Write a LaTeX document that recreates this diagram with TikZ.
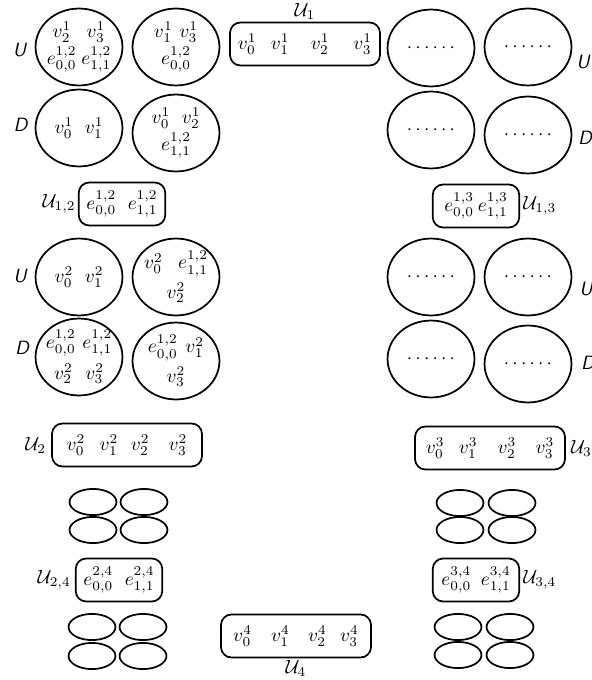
\documentclass[tikz,border=0pt]{standalone}
\usetikzlibrary{shapes.geometric}
\newcommand{\hs}[1]{\hspace{#1pt}}
\begin{document}
\begin{tikzpicture}[x=0.52pt,y=-0.52pt,
  big/.style={draw, ellipse, line width=0.9pt, minimum width=45.2pt, minimum height=40pt, inner xsep=-3pt, inner ysep=-1pt, align=center},
  small/.style={draw, ellipse, line width=0.9pt, minimum width=24.4pt, minimum height=13.6pt, inner sep=0},
  longbox/.style={draw, rounded corners=5.5pt, line width=0.9pt, minimum width=78pt, minimum height=22.4pt, inner sep=0},
  shortbox/.style={longbox, minimum width=45pt},
  lab/.style={inner sep=0, font=\sffamily\itshape}]
\useasboundingbox (0,0) rectangle (592,680);

% ---- row 1 (U) ----
\node[big] (e1) at (79,47) {$v^1_2\hs{8}v^1_3$\\[2pt]$e^{1,2}_{0,0}\hs{2.5}e^{1,2}_{1,1}$};
\node[big] (e2) at (176,47) {$v^1_1\hs{3.5}v^1_3$\\[2pt]$e^{1,2}_{0,0}$};
\node[big] (e3) at (431,48) {$\cdots\cdots$};
\node[big] (e4) at (528,47) {$\cdots\cdots$};
\node[lab] (lu1) at (19.5,50) {U};
\node[lab] (ru1) at (583,62) {U};

\node[longbox] (U1) at (305,44) {$v^1_0\hs{7.5}v^1_1\hs{11}v^1_2\hs{12.5}v^1_3$};
\node[inner sep=0, anchor=south] (lU1) at ([yshift=0.8pt]U1.north) {$\mathcal{U}_1$};

% ---- row 2 (D) ----
\node[big] (e5) at (79,128) {$v^1_0\hs{6}v^1_1$};
\node[big] (e6) at (176,133) {$v^1_0\hs{6}v^1_2$\\[2pt]$e^{1,2}_{1,1}$};
\node[big] (e7) at (431,130) {$\cdots\cdots$};
\node[big] (e8) at (528,135) {$\cdots\cdots$};
\node[lab] (ld2) at (20.5,125) {D};
\node[lab] (rd2) at (585,138) {D};

% ---- U_{1,2}, U_{1,3} ----
\node[shortbox] (U12) at (122,204) {$e^{1,2}_{0,0}\hs{6}e^{1,2}_{1,1}$};
\node[inner sep=0, anchor=east] (lU12) at ([xshift=-1pt]U12.west) {$\mathcal{U}_{1,2}$};
\node[shortbox] (U13) at (476,206) {$e^{1,3}_{0,0}\hs{2}e^{1,3}_{1,1}$};
\node[inner sep=0, anchor=west] (lU13) at ([xshift=1.5pt]U13.east) {$\mathcal{U}_{1,3}$};

% ---- row 3 (U) ----
\node[big] (e9) at (79,277) {$v^2_0\hs{6}v^2_1$};
\node[big] (e10) at (176,277) {$v^2_0\hs{8}e^{1,2}_{1,1}$\\[2pt]$v^2_2$};
\node[big] (e11) at (431,277) {$\cdots\cdots$};
\node[big] (e12) at (528,277) {$\cdots\cdots$};
\node[lab] (lu3) at (20,276) {U};
\node[lab] (ru3) at (586,289) {U};

% ---- row 4 (D) ----
\node[big] (e13) at (79,357) {$e^{1,2}_{0,0}\hs{3.5}e^{1,2}_{1,1}$\\[3pt]$v^2_2\hs{6.5}v^2_3$};
\node[big] (e14) at (176,361) {$e^{1,2}_{0,0}\hs{4}v^2_1$\\[2pt]$v^2_3$};
\node[big] (e15) at (431,359) {$\cdots\cdots$};
\node[big] (e16) at (528,364) {$\cdots\cdots$};
\node[lab] (ld4) at (22,348) {D};
\node[lab] (rd4) at (588,363) {D};

% ---- U_2, U_3 ----
\node[longbox] (U2) at (127,445) {$v^2_0\hs{7.5}v^2_1\hs{6.5}v^2_2\hs{10}v^2_3$};
\node[inner sep=0, anchor=east] (lU2) at ([xshift=-2.5pt]U2.west) {$\mathcal{U}_2$};
\node[longbox] (U3) at (490,448) {$v^3_0\hs{7.5}v^3_1\hs{10.5}v^3_2\hs{10}v^3_3$};
\node[inner sep=0, anchor=west] (lU3) at ([xshift=2.5pt]U3.east) {$\mathcal{U}_3$};

% ---- small ellipse groups ----
\node[small] (a1) at (93,502) {};
\node[small] (a2) at (144,502) {};
\node[small] (a3) at (93,530) {};
\node[small] (a4) at (144,530) {};
\node[small] (b1) at (92,627) {};
\node[small] (b2) at (143,627) {};
\node[small] (b3) at (92,656) {};
\node[small] (b4) at (143,656) {};
\node[small] (c1) at (460,503) {};
\node[small] (c2) at (512,503) {};
\node[small] (c3) at (460,530) {};
\node[small] (c4) at (512,530) {};
\node[small] (d1) at (458,627) {};
\node[small] (d2) at (510,627) {};
\node[small] (d3) at (458,655) {};
\node[small] (d4) at (510,655) {};

% ---- U_{2,4}, U_{3,4}, U_4 ----
\node[shortbox] (U24) at (119,580) {$e^{2,4}_{0,0}\hs{6}e^{2,4}_{1,1}$};
\node[inner sep=0, anchor=east] (lU24) at ([xshift=-2pt]U24.west) {$\mathcal{U}_{2,4}$};
\node[shortbox] (U34) at (476,580) {$e^{3,4}_{0,0}\hs{5}e^{3,4}_{1,1}$};
\node[inner sep=0, anchor=west] (lU34) at ([xshift=1.5pt]U34.east) {$\mathcal{U}_{3,4}$};
\node[longbox] (U4) at (296,636) {$v^4_0\hs{10}v^4_1\hs{9.5}v^4_2\hs{7}v^4_3$};
\node[inner sep=0, anchor=north] (lU4) at ([yshift=-1pt]U4.south) {$\mathcal{U}_4$};
\end{tikzpicture}
\end{document}
